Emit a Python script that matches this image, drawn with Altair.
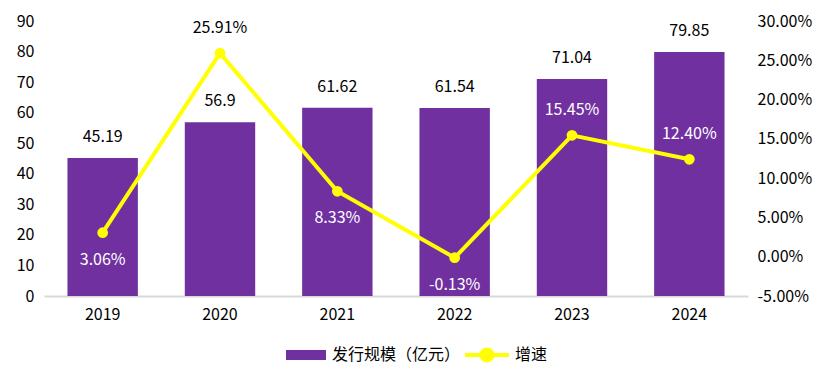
import altair as alt
import pandas as pd

years = ["2019", "2020", "2021", "2022", "2023", "2024"]
issue_scale = [45.19, 56.9, 61.62, 61.54, 71.04, 79.85]
issue_labels = ["45.19", "56.9", "61.62", "61.54", "71.04", "79.85"]
growth = [0.0306, 0.2591, 0.0833, -0.0013, 0.1545, 0.1240]
growth_labels = ["3.06%", "25.91%", "8.33%", "-0.13%", "15.45%", "12.40%"]
left_ticks = [0, 10, 20, 30, 40, 50, 60, 70, 80, 90]
right_ticks = [-0.05, 0.0, 0.05, 0.10, 0.15, 0.20, 0.25, 0.30]
above_years = ["2020", "2023", "2024"]
dark_label_years = ["2020"]
bar_series = "发行规模（亿元）"
line_series = "增速"

df = pd.DataFrame({
    "year": years,
    "value": issue_scale,
    "value_label": issue_labels,
    "growth": growth,
    "growth_label": growth_labels,
    "bar_series": [bar_series] * len(years),
    "line_series": [line_series] * len(years),
})

FONT = "Noto Sans CJK SC"
FS = 16
PURPLE = "#7030A0"
YELLOW = "#FFFF00"
MINUS = "\u2212"

x = alt.X(
    "year:N",
    sort=years,
    scale=alt.Scale(paddingInner=0.4, paddingOuter=0.2),
    axis=alt.Axis(title=None, labelAngle=0, ticks=False, domainColor="#D9D9D9",
                  domainWidth=2, labelPadding=10, labelFontSize=FS, labelFont=FONT,
                  labelColor="#000000"),
)

y_left = alt.Y(
    "value:Q",
    scale=alt.Scale(domain=[0, 90], nice=False, zero=True),
    axis=alt.Axis(title=None, values=left_ticks, grid=False, ticks=False, domain=False,
                  labelPadding=10, labelFontSize=FS, labelFont=FONT, labelColor="#000000"),
)

y_right = alt.Y(
    "growth:Q",
    scale=alt.Scale(domain=[-0.05, 0.30], nice=False, zero=False),
    axis=alt.Axis(title=None, orient="right", values=right_ticks, grid=False, ticks=False,
                  domain=False, labelPadding=9, labelFontSize=FS, labelFont=FONT,
                  labelColor="#000000",
                  labelExpr="replace(format(datum.value, '.2%'), '" + MINUS + "', '-')"),
)

bars = alt.Chart(df).mark_bar().encode(
    x=x,
    y=y_left,
    fill=alt.Fill(
        "bar_series:N",
        scale=alt.Scale(domain=[bar_series], range=[PURPLE]),
        legend=alt.Legend(title=None, orient="none", legendX=242, legendY=314,
                          symbolType="M-1,-0.25H1V0.25H-1Z", symbolSize=1600,
                          symbolStrokeWidth=0, labelFontSize=FS, labelFont=FONT,
                          labelColor="#000000", labelOffset=6, padding=0),
    ),
)

bar_text = alt.Chart(df).mark_text(
    baseline="alphabetic", dy=-16, fontSize=FS, font=FONT, color="#000000"
).encode(x=x, y=y_left, text="value_label:N")

line = alt.Chart(df).mark_line(strokeWidth=4).encode(
    x=x,
    y=y_right,
    stroke=alt.Stroke(
        "line_series:N",
        scale=alt.Scale(domain=[line_series], range=[YELLOW]),
        legend=alt.Legend(title=None, orient="none", legendX=419, legendY=310,
                          symbolType="M-1,0H1M0.25,0A0.25,0.25,0,1,1,-0.25,0A0.25,0.25,0,1,1,0.25,0Z",
                          symbolSize=1936, symbolStrokeWidth=4, symbolFillColor=YELLOW,
                          labelFontSize=FS, labelFont=FONT, labelColor="#000000",
                          labelOffset=4, padding=0),
    ),
)

points = alt.Chart(df).mark_circle(size=115, opacity=1, color=YELLOW).encode(x=x, y=y_right)

growth_text_above = alt.Chart(df).transform_filter(
    alt.FieldOneOfPredicate(field="year", oneOf=above_years)
).mark_text(baseline="alphabetic", dy=-20, fontSize=FS, font=FONT).encode(
    x=x,
    y=y_right,
    text="growth_label:N",
    color=alt.condition(
        alt.FieldOneOfPredicate(field="year", oneOf=dark_label_years),
        alt.value("#000000"),
        alt.value("#FFFFFF"),
    ),
)

growth_text_below = alt.Chart(df).transform_filter(
    ~alt.FieldOneOfPredicate(field="year", oneOf=above_years)
).mark_text(baseline="alphabetic", dy=32, fontSize=FS, font=FONT, color="#FFFFFF").encode(
    x=x,
    y=y_right,
    text="growth_label:N",
)

left_group = alt.layer(bars, bar_text)
right_group = alt.layer(line, points, growth_text_above, growth_text_below)

chart = alt.layer(left_group, right_group).resolve_scale(y="independent").properties(
    width=704,
    height=275,
    autosize=alt.AutoSizeParams(type="none"),
    padding={"left": 36, "top": 13, "right": 72, "bottom": 80},
).configure(font=FONT, view=alt.ViewConfig(stroke=None))

chart.save("out.html", embed_options={"renderer": "svg", "actions": False})
